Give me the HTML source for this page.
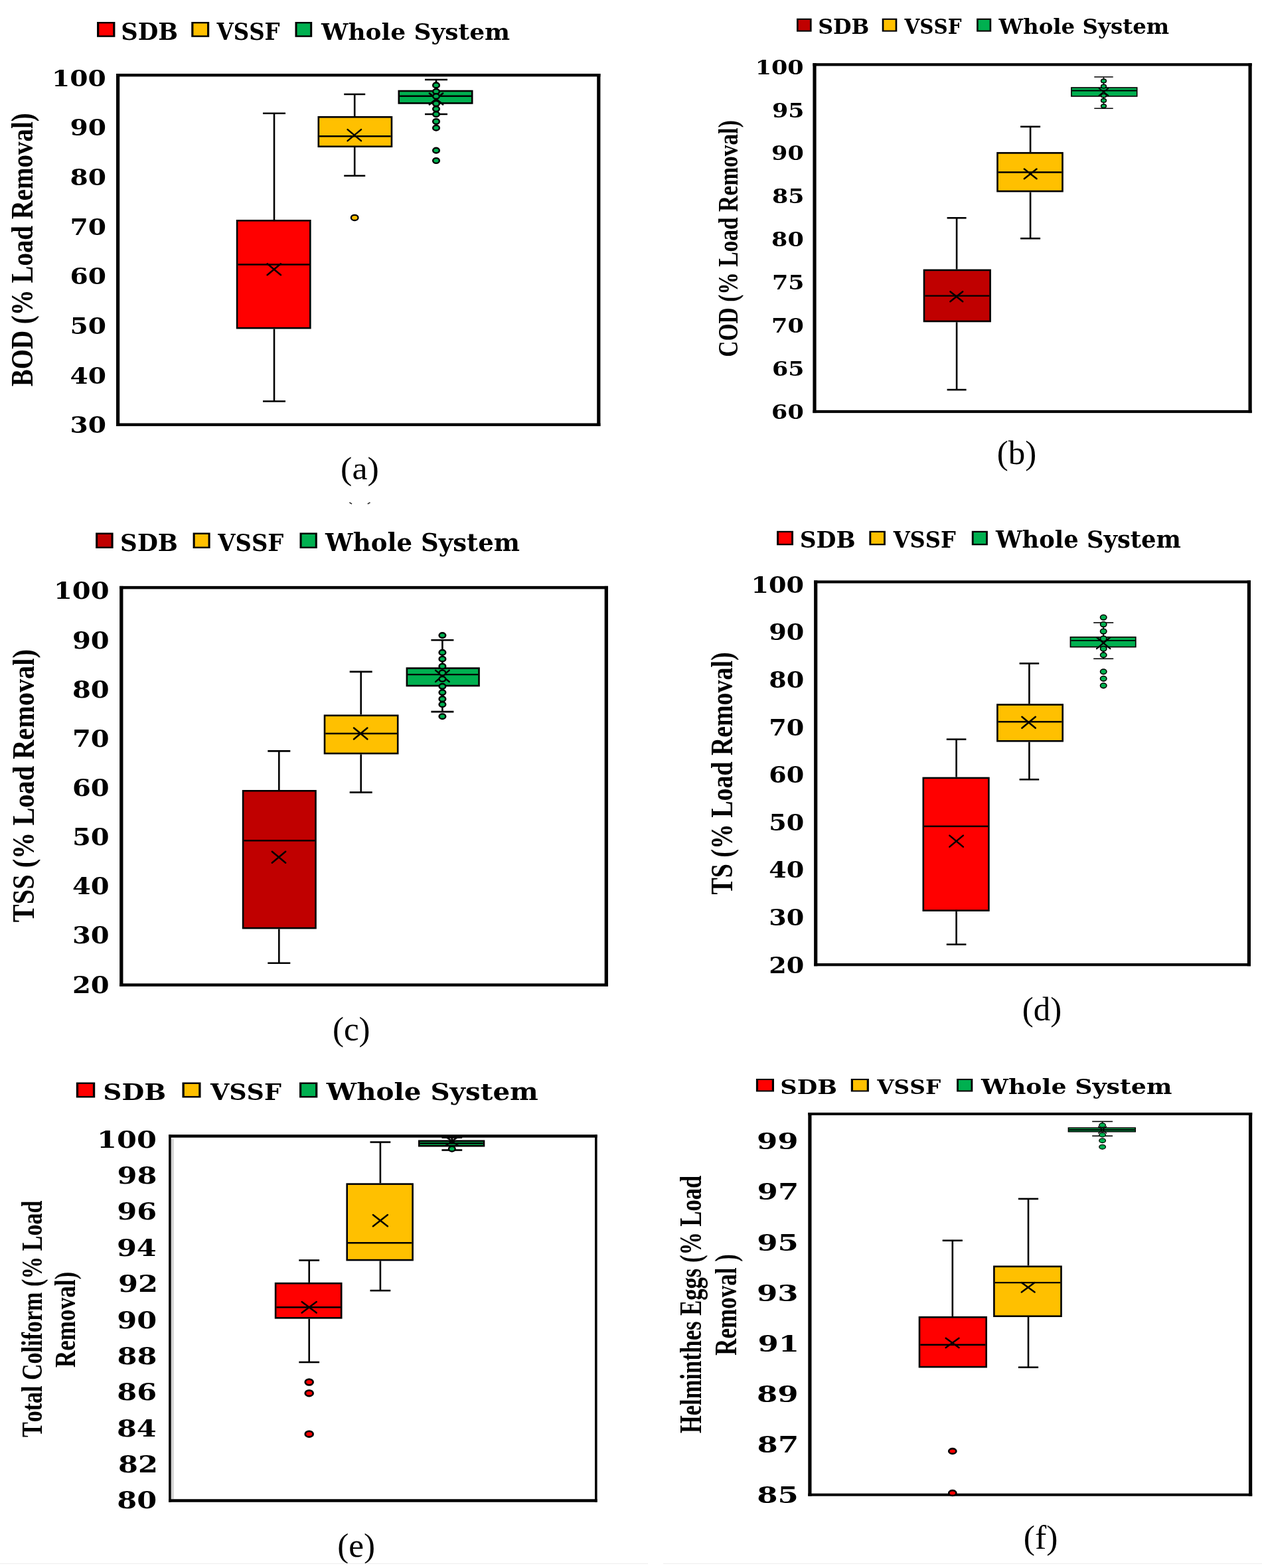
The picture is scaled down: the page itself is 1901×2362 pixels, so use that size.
<!DOCTYPE html><html><head><meta charset="utf-8"><title>Box plots</title><style>html,body{margin:0;padding:0;background:#fff}svg{display:block}text{font-kerning:none}</style></head><body><svg width="1901" height="2362" viewBox="0 0 1901 2362"><rect width="1901" height="2362" fill="#fff"/><g><rect x="146.05" y="33.00" width="27.35" height="22.80" fill="#000"/><rect x="149.25" y="35.39" width="20.95" height="18.01" fill="#FF0000"/><rect x="288.25" y="33.00" width="26.95" height="22.80" fill="#000"/><rect x="291.40" y="35.39" width="20.64" height="18.01" fill="#FFC000"/><rect x="444.50" y="33.00" width="25.70" height="22.80" fill="#000"/><rect x="447.51" y="35.39" width="19.69" height="18.01" fill="#00B050"/><text transform="translate(182.15,60.17) scale(1.0098,1)" font-family='"DejaVu Serif", serif' font-weight="bold" font-size="34.95" fill="#000">SDB</text><text transform="translate(326.52,60.17) scale(0.9294,1)" font-family='"DejaVu Serif", serif' font-weight="bold" font-size="34.95" fill="#000">VSSF</text><text transform="translate(484.05,59.78) scale(1.0476,1)" font-family='"DejaVu Serif", serif' font-weight="bold" font-size="34.32" fill="#000">Whole System</text><rect x="175.00" y="111.00" width="729.40" height="4.40" fill="#000"/><rect x="175.00" y="637.50" width="729.40" height="4.40" fill="#000"/><rect x="175.00" y="111.00" width="5.20" height="530.90" fill="#000"/><rect x="899.20" y="111.00" width="5.20" height="530.90" fill="#000"/><text transform="translate(78.10,129.83) scale(1.1428,1)" font-family='"DejaVu Serif", serif' font-weight="bold" font-size="34.29">100</text><text transform="translate(105.53,204.44) scale(1.1428,1)" font-family='"DejaVu Serif", serif' font-weight="bold" font-size="34.29">90</text><text transform="translate(105.53,279.06) scale(1.1428,1)" font-family='"DejaVu Serif", serif' font-weight="bold" font-size="34.29">80</text><text transform="translate(105.53,353.67) scale(1.1428,1)" font-family='"DejaVu Serif", serif' font-weight="bold" font-size="34.29">70</text><text transform="translate(105.53,428.29) scale(1.1428,1)" font-family='"DejaVu Serif", serif' font-weight="bold" font-size="34.29">60</text><text transform="translate(105.53,502.90) scale(1.1428,1)" font-family='"DejaVu Serif", serif' font-weight="bold" font-size="34.29">50</text><text transform="translate(105.53,577.51) scale(1.1428,1)" font-family='"DejaVu Serif", serif' font-weight="bold" font-size="34.29">40</text><text transform="translate(105.53,652.13) scale(1.1428,1)" font-family='"DejaVu Serif", serif' font-weight="bold" font-size="34.29">30</text><line x1="413" y1="170.75" x2="413" y2="331" stroke="#000" stroke-width="2.6"/><line x1="396" y1="170.75" x2="430" y2="170.75" stroke="#000" stroke-width="2.6"/><line x1="413" y1="495.5" x2="413" y2="604.5" stroke="#000" stroke-width="2.6"/><line x1="396" y1="604.5" x2="430" y2="604.5" stroke="#000" stroke-width="2.6"/><rect x="357.10" y="332.30" width="110.20" height="161.90" fill="#FF0000" stroke="#000" stroke-width="2.6"/><line x1="358.40000000000003" y1="398.5" x2="466.0" y2="398.5" stroke="#000" stroke-width="2.4"/><path d="M402.6 397.2L423.0 414.2M402.6 414.2L423.0 397.2" stroke="#000" stroke-width="2.5" stroke-linecap="round" fill="none"/><line x1="534.2" y1="142" x2="534.2" y2="175" stroke="#000" stroke-width="2.6"/><line x1="518.2" y1="142" x2="550.2" y2="142" stroke="#000" stroke-width="2.6"/><line x1="534.2" y1="222" x2="534.2" y2="264.75" stroke="#000" stroke-width="2.6"/><line x1="518.2" y1="264.75" x2="550.2" y2="264.75" stroke="#000" stroke-width="2.6"/><rect x="479.80" y="176.30" width="110.15" height="44.40" fill="#FFC000" stroke="#000" stroke-width="2.6"/><line x1="481.1" y1="205.2" x2="588.65" y2="205.2" stroke="#000" stroke-width="2.4"/><path d="M523.5999999999999 195.1L544.0 212.1M523.5999999999999 212.1L544.0 195.1" stroke="#000" stroke-width="2.5" stroke-linecap="round" fill="none"/><ellipse cx="534.2" cy="327.9" rx="5.3" ry="4.1" fill="#FFC000" stroke="#000" stroke-width="2.3"/><line x1="657" y1="120" x2="657" y2="135.75" stroke="#000" stroke-width="2.6"/><line x1="640" y1="120" x2="674" y2="120" stroke="#000" stroke-width="2.6"/><line x1="657" y1="156.75" x2="657" y2="172" stroke="#000" stroke-width="2.6"/><line x1="640" y1="172" x2="674" y2="172" stroke="#000" stroke-width="2.6"/><rect x="600.80" y="137.05" width="110.40" height="18.40" fill="#00B050" stroke="#000" stroke-width="2.6"/><line x1="602.1" y1="144.7" x2="709.9" y2="144.7" stroke="#000" stroke-width="2.4"/><path d="M646.8 140.5L667.2 157.5M646.8 157.5L667.2 140.5" stroke="#000" stroke-width="2.5" stroke-linecap="round" fill="none"/><ellipse cx="657" cy="128.4" rx="4.85" ry="3.85" fill="#00B050" stroke="#000" stroke-width="2.4"/><ellipse cx="657" cy="137.8" rx="4.85" ry="3.85" fill="#00B050" stroke="#000" stroke-width="2.4"/><ellipse cx="657" cy="145.1" rx="4.85" ry="3.85" fill="#00B050" stroke="#000" stroke-width="2.4"/><ellipse cx="657" cy="156" rx="4.85" ry="3.85" fill="#00B050" stroke="#000" stroke-width="2.4"/><ellipse cx="657" cy="164.1" rx="4.85" ry="3.85" fill="#00B050" stroke="#000" stroke-width="2.4"/><ellipse cx="657" cy="172.1" rx="4.85" ry="3.85" fill="#00B050" stroke="#000" stroke-width="2.4"/><ellipse cx="657" cy="183" rx="4.85" ry="3.85" fill="#00B050" stroke="#000" stroke-width="2.4"/><ellipse cx="657" cy="192.7" rx="4.85" ry="3.85" fill="#00B050" stroke="#000" stroke-width="2.4"/><ellipse cx="657" cy="226.6" rx="4.85" ry="3.85" fill="#00B050" stroke="#000" stroke-width="2.4"/><ellipse cx="657" cy="242" rx="4.85" ry="3.85" fill="#00B050" stroke="#000" stroke-width="2.4"/><text transform="translate(49.14,582.25) rotate(-90) scale(0.8399,1)" font-family='"Liberation Serif", serif' font-weight="bold" font-size="46.35">BOD (% Load Removal)</text><text transform="translate(513.09,722.29) scale(1.0604,1)" font-family='"Liberation Serif", serif' font-weight="normal" font-size="48.99" fill="#000">(a)</text></g><g><rect x="1200.00" y="27.80" width="22.60" height="19.90" fill="#000"/><rect x="1202.64" y="29.89" width="17.31" height="15.72" fill="#C00000"/><rect x="1328.70" y="27.80" width="22.60" height="19.90" fill="#000"/><rect x="1331.34" y="29.89" width="17.31" height="15.72" fill="#FFC000"/><rect x="1471.10" y="27.80" width="22.10" height="19.90" fill="#000"/><rect x="1473.69" y="29.89" width="16.93" height="15.72" fill="#00B050"/><text transform="translate(1232.18,51.29) scale(1.0282,1)" font-family='"DejaVu Serif", serif' font-weight="bold" font-size="30.86" fill="#000">SDB</text><text transform="translate(1362.45,51.29) scale(0.9528,1)" font-family='"DejaVu Serif", serif' font-weight="bold" font-size="30.86" fill="#000">VSSF</text><text transform="translate(1504.57,51.25) scale(1.0369,1)" font-family='"DejaVu Serif", serif' font-weight="bold" font-size="31.32" fill="#000">Whole System</text><rect x="1224.40" y="95.20" width="661.30" height="4.20" fill="#000"/><rect x="1224.40" y="617.90" width="661.30" height="4.20" fill="#000"/><rect x="1224.40" y="95.20" width="5.20" height="526.90" fill="#000"/><rect x="1880.50" y="95.20" width="5.20" height="526.90" fill="#000"/><text transform="translate(1137.63,111.59) scale(1.1526,1)" font-family='"DejaVu Serif", serif' font-weight="bold" font-size="30.33">100</text><text transform="translate(1162.97,176.54) scale(1.1526,1)" font-family='"DejaVu Serif", serif' font-weight="bold" font-size="30.33">95</text><text transform="translate(1162.10,241.49) scale(1.1526,1)" font-family='"DejaVu Serif", serif' font-weight="bold" font-size="30.33">90</text><text transform="translate(1162.97,306.44) scale(1.1526,1)" font-family='"DejaVu Serif", serif' font-weight="bold" font-size="30.33">85</text><text transform="translate(1162.10,371.39) scale(1.1526,1)" font-family='"DejaVu Serif", serif' font-weight="bold" font-size="30.33">80</text><text transform="translate(1162.97,436.34) scale(1.1526,1)" font-family='"DejaVu Serif", serif' font-weight="bold" font-size="30.33">75</text><text transform="translate(1162.10,501.29) scale(1.1526,1)" font-family='"DejaVu Serif", serif' font-weight="bold" font-size="30.33">70</text><text transform="translate(1162.97,566.24) scale(1.1526,1)" font-family='"DejaVu Serif", serif' font-weight="bold" font-size="30.33">65</text><text transform="translate(1162.10,631.19) scale(1.1526,1)" font-family='"DejaVu Serif", serif' font-weight="bold" font-size="30.33">60</text><line x1="1441.1" y1="328.3" x2="1441.1" y2="405.6" stroke="#000" stroke-width="2.6"/><line x1="1426.6" y1="328.3" x2="1455.6" y2="328.3" stroke="#000" stroke-width="2.6"/><line x1="1441.1" y1="485.3" x2="1441.1" y2="587.1" stroke="#000" stroke-width="2.6"/><line x1="1426.6" y1="587.1" x2="1455.6" y2="587.1" stroke="#000" stroke-width="2.6"/><rect x="1392.00" y="406.90" width="99.60" height="77.10" fill="#C00000" stroke="#000" stroke-width="2.6"/><line x1="1393.3" y1="445.6" x2="1490.3000000000002" y2="445.6" stroke="#000" stroke-width="2.4"/><path d="M1431.3999999999999 439.2L1450.2 454.2M1431.3999999999999 454.2L1450.2 439.2" stroke="#000" stroke-width="2.5" stroke-linecap="round" fill="none"/><line x1="1552.1" y1="190.8" x2="1552.1" y2="229.1" stroke="#000" stroke-width="2.6"/><line x1="1537.1" y1="190.8" x2="1567.1" y2="190.8" stroke="#000" stroke-width="2.6"/><line x1="1552.1" y1="289.4" x2="1552.1" y2="359.2" stroke="#000" stroke-width="2.6"/><line x1="1537.1" y1="359.2" x2="1567.1" y2="359.2" stroke="#000" stroke-width="2.6"/><rect x="1502.50" y="230.40" width="98.00" height="57.70" fill="#FFC000" stroke="#000" stroke-width="2.6"/><line x1="1503.8" y1="259.5" x2="1599.2" y2="259.5" stroke="#000" stroke-width="2.4"/><path d="M1542.9 254.59999999999997L1561.5 269.2M1542.9 269.2L1561.5 254.59999999999997" stroke="#000" stroke-width="2.5" stroke-linecap="round" fill="none"/><line x1="1662.5" y1="115.9" x2="1662.5" y2="131.2" stroke="#000" stroke-width="1.5"/><line x1="1648.3" y1="115.9" x2="1676.7" y2="115.9" stroke="#000" stroke-width="1.5"/><line x1="1662.5" y1="145.8" x2="1662.5" y2="163.3" stroke="#000" stroke-width="1.5"/><line x1="1648.3" y1="163.3" x2="1676.7" y2="163.3" stroke="#000" stroke-width="1.5"/><rect x="1613.90" y="132.00" width="98.80" height="13.00" fill="#00B050" stroke="#000" stroke-width="1.6"/><line x1="1614.6999999999998" y1="136.5" x2="1711.9" y2="136.5" stroke="#000" stroke-width="2.2"/><path d="M1655.5 133.0L1669.5 144.0M1655.5 144.0L1669.5 133.0" stroke="#000" stroke-width="1.8" stroke-linecap="round" fill="none"/><ellipse cx="1662.5" cy="121.9" rx="3.9" ry="2.8" fill="#00B050" stroke="#000" stroke-width="1.5"/><ellipse cx="1662.5" cy="130.1" rx="3.9" ry="2.8" fill="#00B050" stroke="#000" stroke-width="1.5"/><ellipse cx="1662.5" cy="144" rx="3.9" ry="2.8" fill="#00B050" stroke="#000" stroke-width="1.5"/><ellipse cx="1662.5" cy="151.4" rx="3.9" ry="2.8" fill="#00B050" stroke="#000" stroke-width="1.5"/><ellipse cx="1662.5" cy="159.7" rx="3.9" ry="2.8" fill="#00B050" stroke="#000" stroke-width="1.5"/><text transform="translate(1110.53,537.68) rotate(-90) scale(0.8058,1)" font-family='"Liberation Serif", serif' font-weight="bold" font-size="41.61">COD (% Load Removal)</text><text transform="translate(1501.77,698.72) scale(1.0146,1)" font-family='"Liberation Serif", serif' font-weight="normal" font-size="50.31" fill="#000">(b)</text></g><g><rect x="144.10" y="802.50" width="26.50" height="23.50" fill="#000"/><rect x="147.20" y="804.97" width="20.30" height="18.57" fill="#C00000"/><rect x="290.60" y="802.50" width="26.00" height="23.50" fill="#000"/><rect x="293.64" y="804.97" width="19.92" height="18.57" fill="#FFC000"/><rect x="451.50" y="802.50" width="26.30" height="23.50" fill="#000"/><rect x="454.58" y="804.97" width="20.15" height="18.57" fill="#00B050"/><text transform="translate(181.12,829.91) scale(1.0101,1)" font-family='"DejaVu Serif", serif' font-weight="bold" font-size="35.34" fill="#000">SDB</text><text transform="translate(328.28,829.91) scale(0.9567,1)" font-family='"DejaVu Serif", serif' font-weight="bold" font-size="35.34" fill="#000">VSSF</text><text transform="translate(490.11,830.38) scale(0.9907,1)" font-family='"DejaVu Serif", serif' font-weight="bold" font-size="37.42" fill="#000">Whole System</text><rect x="180.15" y="882.85" width="735.80" height="4.50" fill="#000"/><rect x="180.15" y="1481.45" width="735.80" height="4.50" fill="#000"/><rect x="180.15" y="882.85" width="5.30" height="603.10" fill="#000"/><rect x="910.65" y="882.85" width="5.30" height="603.10" fill="#000"/><text transform="translate(80.89,902.35) scale(1.1130,1)" font-family='"DejaVu Serif", serif' font-weight="bold" font-size="36.00">100</text><text transform="translate(108.94,976.51) scale(1.1130,1)" font-family='"DejaVu Serif", serif' font-weight="bold" font-size="36.00">90</text><text transform="translate(108.94,1050.67) scale(1.1130,1)" font-family='"DejaVu Serif", serif' font-weight="bold" font-size="36.00">80</text><text transform="translate(108.94,1124.84) scale(1.1130,1)" font-family='"DejaVu Serif", serif' font-weight="bold" font-size="36.00">70</text><text transform="translate(108.94,1199.00) scale(1.1130,1)" font-family='"DejaVu Serif", serif' font-weight="bold" font-size="36.00">60</text><text transform="translate(108.94,1273.16) scale(1.1130,1)" font-family='"DejaVu Serif", serif' font-weight="bold" font-size="36.00">50</text><text transform="translate(108.94,1347.32) scale(1.1130,1)" font-family='"DejaVu Serif", serif' font-weight="bold" font-size="36.00">40</text><text transform="translate(108.94,1421.49) scale(1.1130,1)" font-family='"DejaVu Serif", serif' font-weight="bold" font-size="36.00">30</text><text transform="translate(108.94,1495.65) scale(1.1130,1)" font-family='"DejaVu Serif", serif' font-weight="bold" font-size="36.00">20</text><line x1="420.3" y1="1131.4" x2="420.3" y2="1190" stroke="#000" stroke-width="2.6"/><line x1="403.3" y1="1131.4" x2="437.3" y2="1131.4" stroke="#000" stroke-width="2.6"/><line x1="420.3" y1="1399.4" x2="420.3" y2="1450.7" stroke="#000" stroke-width="2.6"/><line x1="403.3" y1="1450.7" x2="437.3" y2="1450.7" stroke="#000" stroke-width="2.6"/><rect x="366.10" y="1191.30" width="109.40" height="206.80" fill="#C00000" stroke="#000" stroke-width="2.6"/><line x1="367.40000000000003" y1="1266.3" x2="474.2" y2="1266.3" stroke="#000" stroke-width="2.4"/><path d="M409.8 1282.7L430.2 1299.7M409.8 1299.7L430.2 1282.7" stroke="#000" stroke-width="2.5" stroke-linecap="round" fill="none"/><line x1="543.7" y1="1011.9" x2="543.7" y2="1076.5" stroke="#000" stroke-width="2.6"/><line x1="526.7" y1="1011.9" x2="560.7" y2="1011.9" stroke="#000" stroke-width="2.6"/><line x1="543.7" y1="1136.3" x2="543.7" y2="1193.6" stroke="#000" stroke-width="2.6"/><line x1="526.7" y1="1193.6" x2="560.7" y2="1193.6" stroke="#000" stroke-width="2.6"/><rect x="489.00" y="1077.80" width="110.20" height="57.20" fill="#FFC000" stroke="#000" stroke-width="2.6"/><line x1="490.3" y1="1105" x2="597.9" y2="1105" stroke="#000" stroke-width="2.4"/><path d="M533.0 1096.5L553.4000000000001 1113.5M533.0 1113.5L553.4000000000001 1096.5" stroke="#000" stroke-width="2.5" stroke-linecap="round" fill="none"/><line x1="666.4" y1="964.2" x2="666.4" y2="1005.3" stroke="#000" stroke-width="2.6"/><line x1="649.4" y1="964.2" x2="683.4" y2="964.2" stroke="#000" stroke-width="2.6"/><line x1="666.4" y1="1034.3" x2="666.4" y2="1072.1" stroke="#000" stroke-width="2.6"/><line x1="649.4" y1="1072.1" x2="683.4" y2="1072.1" stroke="#000" stroke-width="2.6"/><rect x="612.90" y="1006.60" width="108.60" height="26.40" fill="#00B050" stroke="#000" stroke-width="2.6"/><line x1="614.2" y1="1016.1" x2="720.1999999999999" y2="1016.1" stroke="#000" stroke-width="2.4"/><path d="M656.1999999999999 1009.9L676.6 1026.9M656.1999999999999 1026.9L676.6 1009.9" stroke="#000" stroke-width="2.5" stroke-linecap="round" fill="none"/><ellipse cx="666.4" cy="957.1" rx="4.85" ry="3.85" fill="#00B050" stroke="#000" stroke-width="2.4"/><ellipse cx="666.4" cy="982.9" rx="4.85" ry="3.85" fill="#00B050" stroke="#000" stroke-width="2.4"/><ellipse cx="666.4" cy="992.7" rx="4.85" ry="3.85" fill="#00B050" stroke="#000" stroke-width="2.4"/><ellipse cx="666.4" cy="1003.7" rx="4.85" ry="3.85" fill="#00B050" stroke="#000" stroke-width="2.4"/><ellipse cx="666.4" cy="1013.5" rx="4.85" ry="3.85" fill="#00B050" stroke="#000" stroke-width="2.4"/><ellipse cx="666.4" cy="1022.8" rx="4.85" ry="3.85" fill="#00B050" stroke="#000" stroke-width="2.4"/><ellipse cx="666.4" cy="1033.8" rx="4.85" ry="3.85" fill="#00B050" stroke="#000" stroke-width="2.4"/><ellipse cx="666.4" cy="1043.1" rx="4.85" ry="3.85" fill="#00B050" stroke="#000" stroke-width="2.4"/><ellipse cx="666.4" cy="1052.9" rx="4.85" ry="3.85" fill="#00B050" stroke="#000" stroke-width="2.4"/><ellipse cx="666.4" cy="1061.2" rx="4.85" ry="3.85" fill="#00B050" stroke="#000" stroke-width="2.4"/><ellipse cx="666.4" cy="1079.2" rx="4.85" ry="3.85" fill="#00B050" stroke="#000" stroke-width="2.4"/><text transform="translate(50.51,1389.17) rotate(-90) scale(0.8500,1)" font-family='"Liberation Serif", serif' font-weight="bold" font-size="47.45">TSS (% Load Removal)</text><text transform="translate(500.97,1566.99) scale(1.0209,1)" font-family='"Liberation Serif", serif' font-weight="normal" font-size="49.98" fill="#000">(c)</text></g><g><rect x="1170.10" y="799.80" width="24.90" height="21.50" fill="#000"/><rect x="1173.01" y="802.06" width="19.07" height="16.98" fill="#FF0000"/><rect x="1309.40" y="799.80" width="24.50" height="21.50" fill="#000"/><rect x="1312.27" y="802.06" width="18.77" height="16.98" fill="#FFC000"/><rect x="1463.80" y="799.80" width="24.10" height="21.50" fill="#000"/><rect x="1466.62" y="802.06" width="18.46" height="16.98" fill="#00B050"/><text transform="translate(1204.70,825.35) scale(1.0379,1)" font-family='"DejaVu Serif", serif' font-weight="bold" font-size="33.23" fill="#000">SDB</text><text transform="translate(1345.67,825.35) scale(0.9671,1)" font-family='"DejaVu Serif", serif' font-weight="bold" font-size="33.23" fill="#000">VSSF</text><text transform="translate(1499.99,825.24) scale(1.0240,1)" font-family='"DejaVu Serif", serif' font-weight="bold" font-size="34.47" fill="#000">Whole System</text><rect x="1226.10" y="874.40" width="657.90" height="4.20" fill="#000"/><rect x="1226.10" y="1451.10" width="657.90" height="4.20" fill="#000"/><rect x="1226.10" y="874.40" width="5.20" height="580.90" fill="#000"/><rect x="1878.80" y="874.40" width="5.20" height="580.90" fill="#000"/><text transform="translate(1131.43,892.74) scale(1.1298,1)" font-family='"DejaVu Serif", serif' font-weight="bold" font-size="33.76">100</text><text transform="translate(1158.13,964.36) scale(1.1298,1)" font-family='"DejaVu Serif", serif' font-weight="bold" font-size="33.76">90</text><text transform="translate(1158.13,1035.99) scale(1.1298,1)" font-family='"DejaVu Serif", serif' font-weight="bold" font-size="33.76">80</text><text transform="translate(1158.13,1107.61) scale(1.1298,1)" font-family='"DejaVu Serif", serif' font-weight="bold" font-size="33.76">70</text><text transform="translate(1158.13,1179.24) scale(1.1298,1)" font-family='"DejaVu Serif", serif' font-weight="bold" font-size="33.76">60</text><text transform="translate(1158.13,1250.86) scale(1.1298,1)" font-family='"DejaVu Serif", serif' font-weight="bold" font-size="33.76">50</text><text transform="translate(1158.13,1322.49) scale(1.1298,1)" font-family='"DejaVu Serif", serif' font-weight="bold" font-size="33.76">40</text><text transform="translate(1158.13,1394.11) scale(1.1298,1)" font-family='"DejaVu Serif", serif' font-weight="bold" font-size="33.76">30</text><text transform="translate(1158.13,1465.74) scale(1.1298,1)" font-family='"DejaVu Serif", serif' font-weight="bold" font-size="33.76">20</text><line x1="1440.6" y1="1113.7" x2="1440.6" y2="1170.6" stroke="#000" stroke-width="2.6"/><line x1="1425.8" y1="1113.7" x2="1455.3999999999999" y2="1113.7" stroke="#000" stroke-width="2.6"/><line x1="1440.6" y1="1372.9" x2="1440.6" y2="1422.7" stroke="#000" stroke-width="2.6"/><line x1="1425.8" y1="1422.7" x2="1455.3999999999999" y2="1422.7" stroke="#000" stroke-width="2.6"/><rect x="1390.80" y="1171.90" width="98.60" height="199.70" fill="#FF0000" stroke="#000" stroke-width="2.6"/><line x1="1392.1" y1="1244.8" x2="1488.1000000000001" y2="1244.8" stroke="#000" stroke-width="2.4"/><path d="M1430.3999999999999 1258.6L1450.8 1275.6M1430.3999999999999 1275.6L1450.8 1258.6" stroke="#000" stroke-width="2.5" stroke-linecap="round" fill="none"/><line x1="1550.4" y1="999.4" x2="1550.4" y2="1060.2" stroke="#000" stroke-width="2.6"/><line x1="1535.6000000000001" y1="999.4" x2="1565.2" y2="999.4" stroke="#000" stroke-width="2.6"/><line x1="1550.4" y1="1117.6" x2="1550.4" y2="1174.2" stroke="#000" stroke-width="2.6"/><line x1="1535.6000000000001" y1="1174.2" x2="1565.2" y2="1174.2" stroke="#000" stroke-width="2.6"/><rect x="1502.40" y="1061.50" width="98.30" height="54.80" fill="#FFC000" stroke="#000" stroke-width="2.6"/><line x1="1503.6999999999998" y1="1087.2" x2="1599.4" y2="1087.2" stroke="#000" stroke-width="2.4"/><path d="M1539.3999999999999 1079.7L1559.8 1096.7M1539.3999999999999 1096.7L1559.8 1079.7" stroke="#000" stroke-width="2.5" stroke-linecap="round" fill="none"/><line x1="1662.2" y1="938" x2="1662.2" y2="958.9" stroke="#000" stroke-width="1.6"/><line x1="1647.2" y1="938" x2="1677.2" y2="938" stroke="#000" stroke-width="1.6"/><line x1="1662.2" y1="975.4" x2="1662.2" y2="992.3" stroke="#000" stroke-width="1.6"/><line x1="1647.2" y1="992.3" x2="1677.2" y2="992.3" stroke="#000" stroke-width="1.6"/><rect x="1612.45" y="959.75" width="98.30" height="14.80" fill="#00B050" stroke="#000" stroke-width="1.7"/><line x1="1613.3" y1="964.9" x2="1709.8999999999999" y2="964.9" stroke="#000" stroke-width="1.9"/><path d="M1652.0 960.2L1672.4 977.2M1652.0 977.2L1672.4 960.2" stroke="#000" stroke-width="2.2" stroke-linecap="round" fill="none"/><ellipse cx="1662.2" cy="930.1" rx="4.7" ry="3.8" fill="#00B050" stroke="#000" stroke-width="1.6"/><ellipse cx="1662.2" cy="940.6" rx="4.7" ry="3.8" fill="#00B050" stroke="#000" stroke-width="1.6"/><ellipse cx="1662.2" cy="951.1" rx="4.7" ry="3.8" fill="#00B050" stroke="#000" stroke-width="1.6"/><ellipse cx="1662.2" cy="961.9" rx="4.7" ry="3.8" fill="#00B050" stroke="#000" stroke-width="1.6"/><ellipse cx="1662.2" cy="977.3" rx="4.7" ry="3.8" fill="#00B050" stroke="#000" stroke-width="1.6"/><ellipse cx="1662.2" cy="986.7" rx="4.7" ry="3.8" fill="#00B050" stroke="#000" stroke-width="1.6"/><ellipse cx="1662.2" cy="1011.8" rx="4.7" ry="3.8" fill="#00B050" stroke="#000" stroke-width="1.6"/><ellipse cx="1662.2" cy="1022.3" rx="4.7" ry="3.8" fill="#00B050" stroke="#000" stroke-width="1.6"/><ellipse cx="1662.2" cy="1032.8" rx="4.7" ry="3.8" fill="#00B050" stroke="#000" stroke-width="1.6"/><text transform="translate(1102.58,1347.43) rotate(-90) scale(0.8289,1)" font-family='"Liberation Serif", serif' font-weight="bold" font-size="45.69">TS (% Load Removal)</text><text transform="translate(1539.67,1536.85) scale(1.0080,1)" font-family='"Liberation Serif", serif' font-weight="normal" font-size="50.64" fill="#000">(d)</text></g><g><rect x="114.80" y="1630.50" width="28.40" height="23.00" fill="#000"/><rect x="118.12" y="1632.91" width="21.75" height="18.17" fill="#FF0000"/><rect x="274.50" y="1630.50" width="28.00" height="23.00" fill="#000"/><rect x="277.78" y="1632.91" width="21.45" height="18.17" fill="#FFC000"/><rect x="451.00" y="1630.50" width="27.30" height="23.00" fill="#000"/><rect x="454.19" y="1632.91" width="20.91" height="18.17" fill="#00B050"/><text transform="translate(155.30,1657.13) scale(1.1356,1)" font-family='"DejaVu Serif", serif' font-weight="bold" font-size="34.29" fill="#000">SDB</text><text transform="translate(316.90,1657.13) scale(1.0650,1)" font-family='"DejaVu Serif", serif' font-weight="bold" font-size="34.29" fill="#000">VSSF</text><text transform="translate(491.84,1657.28) scale(1.1183,1)" font-family='"DejaVu Serif", serif' font-weight="bold" font-size="36.10" fill="#000">Whole System</text><rect x="254.10" y="1709.15" width="645.50" height="4.50" fill="#000"/><rect x="254.10" y="2258.25" width="645.50" height="4.50" fill="#000"/><rect x="254.10" y="1709.15" width="3.60" height="553.60" fill="#000"/><rect x="896.00" y="1709.15" width="3.60" height="553.60" fill="#000"/><rect x="258" y="1716" width="3.8000000000000114" height="542" fill="#d4d4d4"/><text transform="translate(146.12,1728.75) scale(1.1870,1)" font-family='"DejaVu Serif", serif' font-weight="bold" font-size="36.26">100</text><text transform="translate(176.61,1783.11) scale(1.1870,1)" font-family='"DejaVu Serif", serif' font-weight="bold" font-size="36.26">98</text><text transform="translate(176.25,1837.47) scale(1.1870,1)" font-family='"DejaVu Serif", serif' font-weight="bold" font-size="36.26">96</text><text transform="translate(175.89,1891.83) scale(1.1870,1)" font-family='"DejaVu Serif", serif' font-weight="bold" font-size="36.26">94</text><text transform="translate(178.04,1946.19) scale(1.1870,1)" font-family='"DejaVu Serif", serif' font-weight="bold" font-size="36.26">92</text><text transform="translate(176.25,2000.55) scale(1.1870,1)" font-family='"DejaVu Serif", serif' font-weight="bold" font-size="36.26">90</text><text transform="translate(176.61,2054.91) scale(1.1870,1)" font-family='"DejaVu Serif", serif' font-weight="bold" font-size="36.26">88</text><text transform="translate(176.25,2109.27) scale(1.1870,1)" font-family='"DejaVu Serif", serif' font-weight="bold" font-size="36.26">86</text><text transform="translate(175.89,2163.63) scale(1.1870,1)" font-family='"DejaVu Serif", serif' font-weight="bold" font-size="36.26">84</text><text transform="translate(178.04,2217.99) scale(1.1870,1)" font-family='"DejaVu Serif", serif' font-weight="bold" font-size="36.26">82</text><text transform="translate(176.25,2272.35) scale(1.1870,1)" font-family='"DejaVu Serif", serif' font-weight="bold" font-size="36.26">80</text><line x1="465.7" y1="1898.5" x2="465.7" y2="1931.9" stroke="#000" stroke-width="2.6"/><line x1="450.3" y1="1898.5" x2="481.09999999999997" y2="1898.5" stroke="#000" stroke-width="2.6"/><line x1="465.7" y1="1986.6" x2="465.7" y2="2052" stroke="#000" stroke-width="2.6"/><line x1="450.3" y1="2052" x2="481.09999999999997" y2="2052" stroke="#000" stroke-width="2.6"/><rect x="415.10" y="1933.20" width="99.10" height="52.10" fill="#FF0000" stroke="#000" stroke-width="2.6"/><line x1="416.40000000000003" y1="1969.3" x2="512.9" y2="1969.3" stroke="#000" stroke-width="2.4"/><path d="M454.7 1961.0L476.7 1977.6M454.7 1977.6L476.7 1961.0" stroke="#000" stroke-width="2.5" stroke-linecap="round" fill="none"/><ellipse cx="465.7" cy="2082" rx="5.9" ry="4.3" fill="#FF0000" stroke="#000" stroke-width="2.8"/><ellipse cx="465.7" cy="2098.7" rx="5.9" ry="4.3" fill="#FF0000" stroke="#000" stroke-width="2.8"/><ellipse cx="465.7" cy="2160.2" rx="5.9" ry="4.3" fill="#FF0000" stroke="#000" stroke-width="2.8"/><line x1="572.9" y1="1720.5" x2="572.9" y2="1782.3" stroke="#000" stroke-width="2.6"/><line x1="557.5" y1="1720.5" x2="588.3" y2="1720.5" stroke="#000" stroke-width="2.6"/><line x1="572.9" y1="1899.4" x2="572.9" y2="1944.1" stroke="#000" stroke-width="2.6"/><line x1="557.5" y1="1944.1" x2="588.3" y2="1944.1" stroke="#000" stroke-width="2.6"/><rect x="522.70" y="1783.60" width="98.90" height="114.50" fill="#FFC000" stroke="#000" stroke-width="2.6"/><line x1="524.0" y1="1872.2" x2="620.3" y2="1872.2" stroke="#000" stroke-width="2.4"/><path d="M561.9 1830.1000000000001L583.9 1847.3M561.9 1847.3L583.9 1830.1000000000001" stroke="#000" stroke-width="2.5" stroke-linecap="round" fill="none"/><line x1="680.8" y1="1713.5" x2="680.8" y2="1717.4" stroke="#000" stroke-width="2.6"/><line x1="665.4" y1="1713.5" x2="696.1999999999999" y2="1713.5" stroke="#000" stroke-width="2.6"/><line x1="680.8" y1="1727.5" x2="680.8" y2="1732.5" stroke="#000" stroke-width="2.6"/><line x1="665.4" y1="1732.5" x2="696.1999999999999" y2="1732.5" stroke="#000" stroke-width="2.6"/><rect x="631.30" y="1718.70" width="97.70" height="7.50" fill="#00B050" stroke="#000" stroke-width="2.6"/><line x1="632.6" y1="1722.3" x2="727.6999999999999" y2="1722.3" stroke="#000" stroke-width="2.4"/><path d="M671.8 1712.5L689.8 1725.5M671.8 1725.5L689.8 1712.5" stroke="#000" stroke-width="2.5" stroke-linecap="round" fill="none"/><ellipse cx="680.8" cy="1730.7" rx="4.85" ry="3.85" fill="#00B050" stroke="#000" stroke-width="2.4"/><text transform="translate(62.71,2165.07) rotate(-90) scale(0.7807,1)" font-family='"Liberation Serif", serif' font-weight="bold" font-size="43.64">Total Coliform (% Load</text><text transform="translate(113.13,2060.09) rotate(-90) scale(0.7973,1)" font-family='"Liberation Serif", serif' font-weight="bold" font-size="44.04">Removal)</text><text transform="translate(508.26,2344.61) scale(1.0290,1)" font-family='"Liberation Serif", serif' font-weight="normal" font-size="49.87" fill="#000">(e)</text></g><g><rect x="1138.90" y="1625.00" width="27.10" height="19.50" fill="#000"/><rect x="1142.07" y="1627.05" width="20.76" height="15.41" fill="#FF0000"/><rect x="1281.80" y="1625.00" width="27.10" height="19.50" fill="#000"/><rect x="1284.97" y="1627.05" width="20.76" height="15.41" fill="#FFC000"/><rect x="1441.10" y="1625.00" width="24.20" height="19.50" fill="#000"/><rect x="1443.93" y="1627.05" width="18.54" height="15.41" fill="#00B050"/><text transform="translate(1175.25,1648.09) scale(1.1549,1)" font-family='"DejaVu Serif", serif' font-weight="bold" font-size="30.46" fill="#000">SDB</text><text transform="translate(1321.17,1648.09) scale(1.0763,1)" font-family='"DejaVu Serif", serif' font-weight="bold" font-size="30.46" fill="#000">VSSF</text><text transform="translate(1478.10,1647.87) scale(1.1807,1)" font-family='"DejaVu Serif", serif' font-weight="bold" font-size="30.81" fill="#000">Whole System</text><rect x="1217.30" y="1676.00" width="668.90" height="4.00" fill="#000"/><rect x="1217.30" y="2249.70" width="668.90" height="4.00" fill="#000"/><rect x="1217.30" y="1676.00" width="5.20" height="577.70" fill="#000"/><rect x="1881.00" y="1676.00" width="5.20" height="577.70" fill="#000"/><text transform="translate(1139.88,1731.34) scale(1.3330,1)" font-family='"DejaVu Serif", serif' font-weight="bold" font-size="33.76">99</text><text transform="translate(1140.62,1807.42) scale(1.3330,1)" font-family='"DejaVu Serif", serif' font-weight="bold" font-size="33.76">97</text><text transform="translate(1140.25,1883.51) scale(1.3330,1)" font-family='"DejaVu Serif", serif' font-weight="bold" font-size="33.76">95</text><text transform="translate(1139.88,1959.59) scale(1.3330,1)" font-family='"DejaVu Serif", serif' font-weight="bold" font-size="33.76">93</text><text transform="translate(1141.38,2035.68) scale(1.3330,1)" font-family='"DejaVu Serif", serif' font-weight="bold" font-size="33.76">91</text><text transform="translate(1139.88,2111.77) scale(1.3330,1)" font-family='"DejaVu Serif", serif' font-weight="bold" font-size="33.76">89</text><text transform="translate(1140.62,2187.85) scale(1.3330,1)" font-family='"DejaVu Serif", serif' font-weight="bold" font-size="33.76">87</text><text transform="translate(1140.25,2263.94) scale(1.3330,1)" font-family='"DejaVu Serif", serif' font-weight="bold" font-size="33.76">85</text><line x1="1434.8" y1="1868.7" x2="1434.8" y2="1982.9" stroke="#000" stroke-width="2.6"/><line x1="1419.7" y1="1868.7" x2="1449.8999999999999" y2="1868.7" stroke="#000" stroke-width="2.6"/><rect x="1385.00" y="1984.20" width="100.70" height="74.90" fill="#FF0000" stroke="#000" stroke-width="2.6"/><line x1="1386.3" y1="2025.8" x2="1484.4" y2="2025.8" stroke="#000" stroke-width="2.4"/><path d="M1424.6999999999998 2015.7L1444.5 2030.1000000000001M1424.6999999999998 2030.1000000000001L1444.5 2015.7" stroke="#000" stroke-width="2.5" stroke-linecap="round" fill="none"/><ellipse cx="1434.8" cy="2186" rx="5.6" ry="3.9" fill="#FF0000" stroke="#000" stroke-width="2.6"/><ellipse cx="1434.8" cy="2249" rx="5.6" ry="3.9" fill="#FF0000" stroke="#000" stroke-width="2.6"/><line x1="1549" y1="1805.9" x2="1549" y2="1906.5" stroke="#000" stroke-width="2.6"/><line x1="1533.9" y1="1805.9" x2="1564.1" y2="1805.9" stroke="#000" stroke-width="2.6"/><line x1="1549" y1="1984" x2="1549" y2="2059.7" stroke="#000" stroke-width="2.6"/><line x1="1533.9" y1="2059.7" x2="1564.1" y2="2059.7" stroke="#000" stroke-width="2.6"/><rect x="1497.40" y="1907.80" width="101.10" height="74.90" fill="#FFC000" stroke="#000" stroke-width="2.6"/><line x1="1498.6999999999998" y1="1932.1" x2="1597.2" y2="1932.1" stroke="#000" stroke-width="2.4"/><path d="M1538.8 1932.1L1558.6000000000001 1946.5M1538.8 1946.5L1558.6000000000001 1932.1" stroke="#000" stroke-width="2.5" stroke-linecap="round" fill="none"/><line x1="1660.6" y1="1689.4" x2="1660.6" y2="1698.2" stroke="#000" stroke-width="1.6"/><line x1="1645.1999999999998" y1="1689.4" x2="1676.0" y2="1689.4" stroke="#000" stroke-width="1.6"/><line x1="1660.6" y1="1705.5" x2="1660.6" y2="1711.2" stroke="#000" stroke-width="1.6"/><line x1="1645.1999999999998" y1="1711.2" x2="1676.0" y2="1711.2" stroke="#000" stroke-width="1.6"/><rect x="1609.40" y="1699.00" width="100.80" height="5.70" fill="#00B050" stroke="#000" stroke-width="1.6"/><line x1="1610.1999999999998" y1="1701.9" x2="1709.4" y2="1701.9" stroke="#000" stroke-width="2.0"/><path d="M1654.6 1697L1666.6 1707M1654.6 1707L1666.6 1697" stroke="#000" stroke-width="1.5" stroke-linecap="round" fill="none"/><ellipse cx="1660.6" cy="1695" rx="4.8" ry="3.3" fill="#00B050" stroke="#000" stroke-width="1.3"/><ellipse cx="1660.6" cy="1709.5" rx="4.8" ry="3.3" fill="#00B050" stroke="#000" stroke-width="1.3"/><ellipse cx="1660.6" cy="1718.2" rx="4.8" ry="3.3" fill="#00B050" stroke="#000" stroke-width="1.3"/><ellipse cx="1660.6" cy="1727.7" rx="4.8" ry="3.3" fill="#00B050" stroke="#000" stroke-width="1.3"/><text transform="translate(1056.29,2159.08) rotate(-90) scale(0.7463,1)" font-family='"Liberation Serif", serif' font-weight="bold" font-size="46.27">Helminthes Eggs (% Load</text><text transform="translate(1108.54,2041.78) rotate(-90) scale(0.7561,1)" font-family='"Liberation Serif", serif' font-weight="bold" font-size="46.35">Removal )</text><text transform="translate(1541.75,2333.34) scale(1.0398,1)" font-family='"Liberation Serif", serif' font-weight="normal" font-size="49.73" fill="#000">(f)</text></g><rect x="0" y="2354.8" width="976" height="1.2" fill="#efefef"/><rect x="999" y="2354.8" width="902" height="1.2" fill="#efefef"/><path d="M526.4 756.8L530 759.2M557.5 756.8L553.8 759.2" stroke="#222" stroke-width="1.6" fill="none"/></svg></body></html>
